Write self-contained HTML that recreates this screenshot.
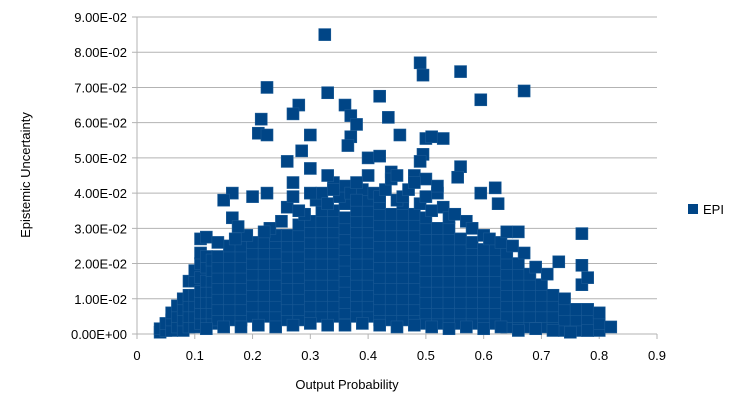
<!DOCTYPE html>
<html><head><meta charset="utf-8"><style>
body{margin:0;background:#fff;}
svg{display:block;font-family:"Liberation Sans",sans-serif;}
</style></head><body>
<svg id="chart" width="736" height="406">
<g id="grid"></g>
<g id="axes"></g>
<g id="marks"></g>
<text x="30" y="175" transform="rotate(-90 30 175)" text-anchor="middle" font-size="13" fill="#000">Epistemic Uncertainty</text>
<text x="347" y="389" text-anchor="middle" font-size="13" fill="#000">Output Probability</text>
<g>
<rect x="688" y="204" width="10" height="10" fill="#004586"/>
<text x="703" y="214" font-size="13" fill="#000">EPI</text>
</g>
</svg>
<script>
const xTicks=[0,0.1,0.2,0.3,0.4,0.5,0.6,0.7,0.8,0.9];
const xTickLabels=["0","0.1","0.2","0.3","0.4","0.5","0.6","0.7","0.8","0.9"];
const yTicks=[0,0.01,0.02,0.03,0.04,0.05,0.06,0.07,0.08,0.09];
const yTickLabels=["0.00E+00","1.00E-02","2.00E-02","3.00E-02","4.00E-02","5.00E-02","6.00E-02","7.00E-02","8.00E-02","9.00E-02"];
// dense band: column x values and epistemic values (x1e-2)
const bandX=[0.04,0.05,0.06,0.07,0.08,0.09,0.10,0.11,0.12,0.13,0.14,0.16,0.18,0.20,0.22,0.24,0.26,0.28,0.30,0.32,0.34,0.36,0.38,0.40,0.42,0.44,0.46,0.48,0.50,0.52,0.54,0.56,0.58,0.60,0.62,0.64,0.66,0.68,0.70,0.72,0.74,0.76,0.78,0.80,0.82];
const bandY=[
[0.05,0.15],[0.1,0.3],[0.1,0.4,0.6],[0.2,0.5,0.8],[0.1,0.4,0.7,1.0],
[0.2,0.5,0.8,1.1,1.5],[0.2,0.5,0.8,1.1,1.5,1.8],[0.3,0.6,0.9,1.2,1.6,2.0,2.3],
[0.3,0.6,0.9,1.2,1.5,1.9,2.2],[0.3,0.6,0.9,1.2,1.5,1.8,2.1],[0.4,0.7,1.0,1.3,1.6,1.9,2.2],
[0.4,0.7,1.0,1.3,1.6,1.9,2.2,2.5],[0.4,0.7,1.0,1.3,1.6,1.9,2.2,2.5],
[0.5,0.8,1.1,1.4,1.7,2.0,2.3,2.6],[0.5,0.8,1.1,1.4,1.7,2.0,2.3,2.6],
[0.5,0.8,1.1,1.4,1.7,2.0,2.3,2.6,2.8],[0.4,0.7,1.0,1.3,1.6,1.9,2.2,2.5,2.8],
[0.4,0.7,1.0,1.3,1.6,1.9,2.2,2.5,2.8,3.1],[0.5,0.8,1.1,1.4,1.7,2.0,2.3,2.6,2.9,3.2],
[0.5,0.8,1.1,1.4,1.7,2.0,2.3,2.6,2.9,3.2,3.5],[0.5,0.8,1.1,1.4,1.7,2.0,2.3,2.6,2.9,3.2,3.5],
[0.25,0.6,0.9,1.2,1.5,1.8,2.1,2.4,2.7,3.0,3.3,3.7],[0.5,0.8,1.1,1.4,1.7,2.0,2.3,2.6,2.9,3.2,3.5],
[0.5,0.8,1.1,1.4,1.7,2.0,2.3,2.6,2.9,3.2,3.5,3.8],[0.4,0.7,1.0,1.3,1.6,1.9,2.2,2.5,2.8,3.1,3.4,3.7],
[0.4,0.7,1.0,1.3,1.6,1.9,2.2,2.5,2.8,3.1,3.4],[0.4,0.7,1.0,1.3,1.6,1.9,2.2,2.5,2.8,3.1,3.4,3.7],
[0.4,0.7,1.0,1.3,1.6,1.9,2.2,2.5,2.8,3.1,3.4],[0.3,0.6,0.9,1.2,1.5,1.8,2.1,2.4,2.7,3.0,3.3],
[0.3,0.6,0.9,1.2,1.5,1.8,2.1,2.4,2.7,3.0],[0.3,0.6,0.9,1.2,1.5,1.8,2.1,2.4,2.7,3.0],
[0.3,0.6,0.9,1.2,1.5,1.8,2.1,2.4,2.7],[0.3,0.6,0.9,1.2,1.5,1.8,2.1,2.4,2.6],
[0.3,0.6,0.9,1.2,1.5,1.8,2.1,2.4],[0.3,0.6,0.9,1.2,1.5,1.8,2.1,2.4],
[0.2,0.5,0.8,1.1,1.4,1.7,2.0,2.3],[0.2,0.5,0.8,1.1,1.4,1.7,2.0],
[0.2,0.5,0.8,1.1,1.4,1.7],[0.2,0.5,0.8,1.1,1.4],[0.2,0.5,0.8,1.1],
[0.1,0.4,0.7,1.0],[0.1,0.4,0.7],[0.1,0.4,0.7],[0.1,0.3,0.6],[0.2]
];
// medium-density points above the band
const midX=[0.25,0.26,0.27,0.29,0.31,0.32,0.33,0.35,0.36,0.37,0.39,0.41,0.42,0.43,0.45,0.46,0.47,0.49,0.5,0.51,0.53,0.54,0.55,0.57,0.58,0.6,0.61,0.63,0.65,0.67,0.69,0.71,0.23,0.22,0.19,0.17,0.28,0.3,0.34,0.4,0.44,0.48,0.52,0.38];
const midY=[3.2,3.6,3.9,3.4,3.8,4.0,3.7,3.9,4.2,4.0,4.1,4.0,3.9,4.1,3.8,3.9,4.1,3.7,3.9,3.5,3.6,3.3,3.4,3.2,3.0,2.8,2.7,2.6,2.5,2.3,1.9,1.7,3.0,2.9,2.8,2.7,3.5,4.0,4.3,4.5,4.6,4.5,4.0,3.8];
// low points near the bottom edge
const lowX=[0.12,0.15,0.18,0.21,0.24,0.27,0.3,0.33,0.39,0.42,0.45,0.48,0.51,0.54,0.57,0.6,0.63,0.66,0.69,0.72,0.75,0.78];
const lowY=[0.15,0.2,0.2,0.25,0.2,0.25,0.3,0.25,0.3,0.25,0.2,0.25,0.2,0.15,0.2,0.15,0.2,0.1,0.15,0.1,0.05,0.1];
const outX=[0.325,0.49,0.56,0.495,0.225,0.67,0.33,0.42,0.595,0.36,0.28,0.215,0.27,0.37,0.435,0.38,0.3,0.21,0.225,0.37,0.455,0.5,0.51,0.53,0.365,0.495,0.285,0.26,0.4,0.42,0.56,0.49,0.3,0.5,0.555,0.62,0.595,0.625,0.165,0.15,0.2,0.225,0.33,0.27,0.77,0.73,0.77,0.77,0.78,0.11,0.12,0.14,0.165,0.175,0.34,0.38,0.44,0.48,0.52,0.45,0.64,0.66];
const outY=[8.5,7.7,7.45,7.35,7.0,6.9,6.85,6.75,6.65,6.5,6.5,6.1,6.25,6.2,6.15,5.95,5.65,5.7,5.65,5.6,5.65,5.55,5.6,5.55,5.35,5.1,5.2,4.9,5.0,5.05,4.75,4.9,4.7,4.4,4.45,4.15,4.0,3.7,4.0,3.8,3.9,4.0,4.5,4.3,2.85,2.05,1.95,1.4,1.6,2.7,2.75,2.6,3.3,3.05,4.1,4.3,4.4,4.3,4.2,4.5,2.9,2.9];

const X0=137,X1=657,Y0=334,Y1=17;
function sx(v){return X0+(v/0.9)*(X1-X0);}
function sy(v){return Y0-(v/0.09)*(Y0-Y1);}
const NS="http://www.w3.org/2000/svg";
const grid=document.getElementById('grid'),axes=document.getElementById('axes'),marks=document.getElementById('marks');
function mk(tag,attrs,parent){const e=document.createElementNS(NS,tag);for(const k in attrs)e.setAttribute(k,attrs[k]);parent.appendChild(e);return e;}
yTicks.forEach((t,i)=>{
  const y=sy(t);
  const g=mk('line',{x1:X0-5,x2:X1,y1:y,y2:y,stroke:'#b3b3b3','stroke-width':1},grid);
  
  
  const tx=mk('text',{x:127,y:y+5,'text-anchor':'end','font-size':13,fill:'#000'},axes);
  tx.textContent=yTickLabels[i];
  
  
});
xTicks.forEach((t,i)=>{
  const x=sx(t);
  const tk=mk('line',{x1:x,x2:x,y1:Y0,y2:Y0+5,stroke:'#b3b3b3','stroke-width':1},axes);
  
  
  const tx=mk('text',{x:x,y:360,'text-anchor':'middle','font-size':13,fill:'#000'},axes);
  tx.textContent=xTickLabels[i];
  
  
});
const ya=mk('line',{x1:X0,x2:X0,y1:Y1,y2:Y0+5,stroke:'#b3b3b3','stroke-width':1},axes);


function point(xv,yv){
  const r=mk('rect',{x:sx(xv)-6,y:sy(yv*0.01)-6,width:12,height:12,fill:'#004586',stroke:'#1a5a96','stroke-width':0.6},marks);
  
  
}
bandX.forEach((x,i)=>bandY[i].forEach(y=>point(x,y)));
lowX.forEach((x,i)=>point(x,lowY[i]));
midX.forEach((x,i)=>point(x,midY[i]));
outX.forEach((x,i)=>point(x,outY[i]));
</script>
</body></html>
